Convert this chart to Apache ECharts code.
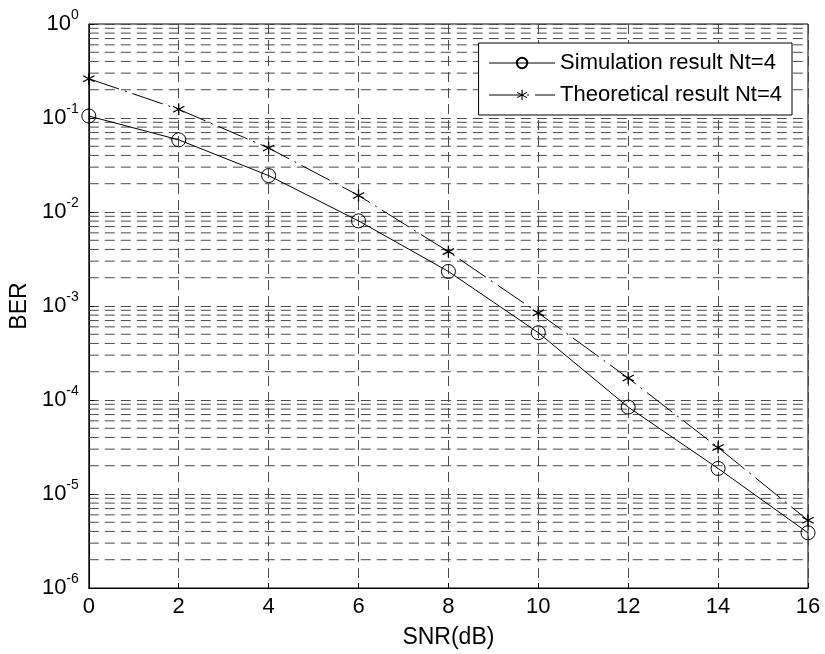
<!DOCTYPE html>
<html>
<head>
<meta charset="utf-8">
<script src="https://cdn.jsdelivr.net/npm/echarts@6/dist/echarts.min.js"></script>
<style>
html,body{margin:0;padding:0;background:#fff;}
#c{width:825px;height:654px;}
</style>
</head>
<body>
<div id="c"></div>
<script>
// ---- data ----
var snr = [0, 2, 4, 6, 8, 10, 12, 14, 16];
var simBER = [0.105, 0.0586, 0.0244, 0.00805, 0.00233, 0.00052, 8.4e-5, 1.87e-5, 3.86e-6];
var theoBER = [0.262, 0.1236, 0.0479, 0.0150, 0.00379, 0.000845, 1.71e-4, 3.12e-5, 5.25e-6];
var simName = 'Simulation result Nt=4';
var theoName = 'Theoretical result Nt=4';
var xTicks = [0, 2, 4, 6, 8, 10, 12, 14, 16];
var yDecades = [-6, -5, -4, -3, -2, -1, 0];
var minorMults = [2, 3, 4, 5, 6, 7, 8, 9];

var FONT = '"Liberation Sans", Arial, Helvetica, sans-serif';

function pairs(xs, ys) { return xs.map(function (x, i) { return [x, ys[i]]; }); }

var minorVals = [];
for (var d = 0; d < yDecades.length - 1; d++) {
  for (var m = 0; m < minorMults.length; m++) {
    minorVals.push([xTicks[0], minorMults[m] * Math.pow(10, yDecades[d])]);
  }
}

var starPath = 'path://M-0.1,-1L0.1,-1L0.1,1L-0.1,1Z' +
  'M0.816,0.587L-0.916,-0.413L-0.816,-0.587L0.916,0.413Z' +
  'M0.916,-0.413L-0.816,0.587L-0.916,0.413L0.816,-0.587Z';

var GRID_COLOR = '#4a4a4a';
var gridLine = { color: GRID_COLOR, width: 1, type: [10, 6] };

var chart = echarts.init(document.getElementById('c'), null, { renderer: 'canvas' });
chart.setOption({
  animation: false,
  backgroundColor: '#fff',
  textStyle: { fontFamily: FONT, color: '#000' },
  grid: { left: 88, right: 17, top: 24, bottom: 62, show: true, borderColor: '#000', borderWidth: 1, backgroundColor: 'transparent' },
  legend: {
    data: [simName, theoName],
    orient: 'vertical',
    right: 33, top: 43,
    backgroundColor: '#fff',
    borderColor: '#000', borderWidth: 1,
    padding: [9, 10, 9, 10],
    itemWidth: 66, itemHeight: 13, itemGap: 10,
    lineStyle: { width: 1 },
    textStyle: { fontFamily: FONT, fontSize: 22, color: '#000', lineHeight: 22 }
  },
  xAxis: {
    type: 'value', min: 0, max: 16, interval: 2,
    name: 'SNR(dB)', nameLocation: 'middle', nameGap: 38,
    nameTextStyle: { fontFamily: FONT, fontSize: 23, color: '#000' },
    axisLine: { lineStyle: { color: '#000', width: 1 } },
    axisTick: { inside: true, length: 5, lineStyle: { color: '#000' } },
    axisLabel: { fontFamily: FONT, fontSize: 22, color: '#000', margin: 8 },
    splitLine: { show: true, lineStyle: gridLine }
  },
  yAxis: {
    type: 'log', logBase: 10, min: 1e-6, max: 1, interval: 1,
    name: 'BER', nameLocation: 'middle', nameGap: 56,
    nameTextStyle: { fontFamily: FONT, fontSize: 23, color: '#000' },
    axisLine: { show: true, lineStyle: { color: '#000', width: 1 } },
    axisTick: { inside: true, length: 5, lineStyle: { color: '#000' } },
    axisLabel: {
      margin: 10,
      formatter: function (v) {
        var e = Math.round(Math.log10(v));
        return '{a|10}{b|' + e + '}';
      },
      rich: {
        a: { fontFamily: FONT, fontSize: 22, color: '#000', lineHeight: 24 },
        b: { fontFamily: FONT, fontSize: 14, color: '#000', padding: [0, 0, 17, 0] }
      }
    },
    splitLine: { show: true, lineStyle: gridLine }
  },
  series: [
    {
      name: 'minor', type: 'custom', data: minorVals, silent: true, z: 1,
      clip: true,
      renderItem: function (params, api) {
        var v = api.value(1);
        var p1 = api.coord([xTicks[0], v]);
        var p2 = api.coord([xTicks[xTicks.length - 1], v]);
        return {
          type: 'line',
          shape: { x1: p1[0], y1: p1[1], x2: p2[0], y2: p2[1] },
          style: { stroke: GRID_COLOR, lineWidth: 1, lineDash: [10, 6] }
        };
      }
    },
    {
      name: simName, type: 'line', data: pairs(snr, simBER),
      symbol: 'circle', symbolSize: 14, showAllSymbol: true,
      lineStyle: { color: '#000', width: 1, type: 'solid' },
      itemStyle: { color: 'rgba(255,255,255,0)', borderColor: '#000', borderWidth: 1 },
      z: 5
    },
    {
      name: theoName, type: 'line', data: pairs(snr, theoBER),
      symbol: starPath, symbolSize: 12, showAllSymbol: true,
      lineStyle: { color: '#000', width: 1, type: [32, 6, 2, 6] },
      itemStyle: { color: '#000', borderColor: '#000', borderWidth: 0 },
      z: 5
    }
  ]
});
</script>
</body>
</html>
